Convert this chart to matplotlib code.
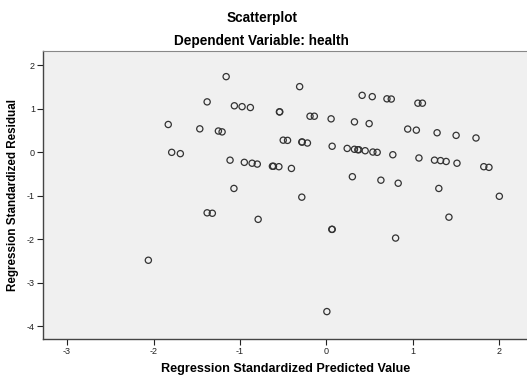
import matplotlib
matplotlib.use("Agg")
import matplotlib.pyplot as plt

plt.rcParams['font.family'] = ['Liberation Sans', 'DejaVu Sans']
plt.rcParams['axes.unicode_minus'] = False

# standardized predicted values / residuals
pred = [-1.16, -1.38, -1.065, -0.976, -0.88, -0.544, -0.54, -1.83, -1.465, -1.25,
        -1.207, -0.5, -0.45, -1.79, -1.69, -1.115, -0.95, -0.86, -0.8, -0.625,
        -0.613, -0.55, -0.405, -1.07, -0.31, 0.413, 0.53, 0.70, 0.75, 1.058,
        1.11, -0.19, -0.14, 0.054, 0.324, 0.494, 0.94, 1.04, 1.28, 1.50,
        1.73, -0.285, -0.28, -0.22, 0.066, 0.24, 0.324, 0.363, 0.375, 0.448,
        0.537, 0.587, 0.768, 1.07, 1.25, 1.32, 1.385, 1.51, 1.82, 1.88,
        0.30, 0.63, 0.83, 1.30, -0.285, 2.0, -1.38, -1.32, -0.79, -2.06,
        1.417, 0.062, 0.067, 0.80, 0.005]
resid = [1.74, 1.16, 1.07, 1.05, 1.03, 0.93, 0.93, 0.64, 0.54, 0.49,
         0.47, 0.28, 0.275, 0.0, -0.03, -0.18, -0.23, -0.25, -0.27, -0.32,
         -0.32, -0.33, -0.37, -0.83, 1.51, 1.31, 1.28, 1.23, 1.225, 1.13,
         1.13, 0.83, 0.83, 0.77, 0.70, 0.66, 0.535, 0.51, 0.45, 0.39,
         0.33, 0.237, 0.237, 0.214, 0.14, 0.09, 0.07, 0.06, 0.06, 0.037,
         0.007, 0.0, -0.055, -0.13, -0.18, -0.19, -0.21, -0.25, -0.33, -0.345,
         -0.56, -0.64, -0.71, -0.83, -1.03, -1.01, -1.39, -1.40, -1.54, -2.48,
         -1.49, -1.77, -1.77, -1.97, -3.66]

xticks = [-3, -2, -1, 0, 1, 2]
yticks = [-4, -3, -2, -1, 0, 1, 2]

fig = plt.figure(figsize=(5.27, 3.75), dpi=100)
ax = fig.add_axes([0.0822, 0.096, 0.9178, 0.7688])
ax.set_facecolor('#f0f0f0')

ax.scatter(pred, resid, s=20, facecolors='none', edgecolors='#333333', linewidths=0.9)

ax.set_xlim(-3.275, 2.32)
ax.set_ylim(-4.29, 2.336)
ax.set_xticks(xticks)
ax.set_yticks(yticks)
ax.tick_params(labelsize=6.5, length=4, width=0.8, colors='#222222', pad=2)

for side in ['left', 'bottom']:
    ax.spines[side].set_color('#444444')
    ax.spines[side].set_linewidth(1.0)
ax.spines['top'].set_color('#888888')
ax.spines['right'].set_visible(False)

ax.set_xlabel('Regression Standardized Predicted Value', fontsize=9.1, fontweight='bold', labelpad=5)
ax.set_ylabel('Regression Standardized Residual', fontsize=8.4, fontweight='bold', labelpad=6)

fig.text(0.497, 0.951, 'Scatterplot', ha='center', va='center', fontsize=9.8, fontweight='bold')
fig.text(0.497, 0.891, 'Dependent Variable: health', ha='center', va='center', fontsize=9.8, fontweight='bold')

fig.savefig('out.png', dpi=100, facecolor='white')
